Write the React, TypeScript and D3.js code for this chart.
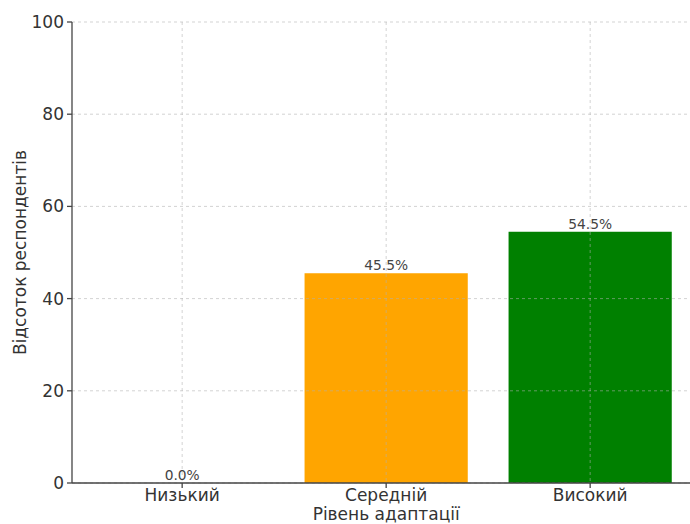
import React from "react";
import * as d3 from "d3";

// Survey result: share of respondents per adaptation level
const categories = ["Низький", "Середній", "Високий"];
const percentages = [0.0, 45.5, 54.5];
const barColors = ["#1f77b4", "orange", "green"];
const yTicks = [0, 20, 40, 60, 80, 100];

const W = 690;
const H = 524;
const margin = { left: 72, top: 22, bottom: 41 };
const plotBottom = H - margin.bottom; // 483
const FONT = "'DejaVu Sans', sans-serif";
const LABEL_SIZE = 17;

export default function App() {
  // Bar slots are 1 unit wide, bars 0.8 wide, with 5% padding on either side of the data span
  const x = d3.scaleLinear().domain([-0.54, 2.54]).range([margin.left, margin.left + 3.08 * 204]);
  const y = d3.scaleLinear().domain([0, 100]).range([plotBottom, margin.top]);
  const barW = 0.8;

  return (
    <svg
      width={W}
      height={H}
      style={{ position: "fixed", left: 0, top: 0, background: "#fff" }}
      fontFamily={FONT}
    >
      {/* bars */}
      {percentages.map((v, i) => (
        <rect
          key={categories[i]}
          x={x(i - barW / 2)}
          y={y(v)}
          width={x(i + barW / 2) - x(i - barW / 2)}
          height={y(0) - y(v)}
          fill={barColors[i]}
        />
      ))}

      {/* dashed grid drawn over the bars */}
      <g stroke="#b0b0b0" strokeOpacity={0.7} strokeWidth={0.8} strokeDasharray="3,3">
        {yTicks.map((t) => (
          <line key={"gy" + t} x1={margin.left} x2={W + 20} y1={y(t)} y2={y(t)} />
        ))}
        {categories.map((c, i) => (
          <line key={"gx" + c} x1={x(i)} x2={x(i)} y1={margin.top} y2={plotBottom} />
        ))}
      </g>

      {/* value labels */}
      {percentages.map((v, i) => (
        <text
          key={"v" + i}
          x={x(i)}
          y={y(v) - 3}
          textAnchor="middle"
          fontSize={13.8}
          fill="#444"
        >
          {v.toFixed(1) + "%"}
        </text>
      ))}

      {/* axes */}
      <g stroke="#444" strokeWidth={1.3}>
        <line x1={margin.left} x2={margin.left} y1={margin.top} y2={plotBottom} />
        <line x1={margin.left} x2={W + 20} y1={plotBottom} y2={plotBottom} />
        {yTicks.map((t) => (
          <line key={"ty" + t} x1={margin.left - 5} x2={margin.left} y1={y(t)} y2={y(t)} />
        ))}
        {categories.map((c, i) => (
          <line key={"tx" + c} x1={x(i)} x2={x(i)} y1={plotBottom} y2={plotBottom + 5} />
        ))}
      </g>

      {/* tick labels */}
      {yTicks.map((t) => (
        <text
          key={"ly" + t}
          x={margin.left - 8}
          y={y(t)}
          dy="0.35em"
          textAnchor="end"
          fontSize={LABEL_SIZE}
          fill="#333"
        >
          {t}
        </text>
      ))}
      {categories.map((c, i) => (
        <text key={"lx" + c} x={x(i)} y={plotBottom + 18} textAnchor="middle" fontSize={LABEL_SIZE} fill="#333">
          {c}
        </text>
      ))}

      {/* axis titles */}
      <text x={x(1)} y={plotBottom + 37} textAnchor="middle" fontSize={LABEL_SIZE} fill="#333">
        Рівень адаптації
      </text>
      <text
        transform={`translate(26, ${(margin.top + plotBottom) / 2}) rotate(-90)`}
        textAnchor="middle"
        fontSize={LABEL_SIZE}
        fill="#333"
      >
        Відсоток респондентів
      </text>
    </svg>
  );
}
